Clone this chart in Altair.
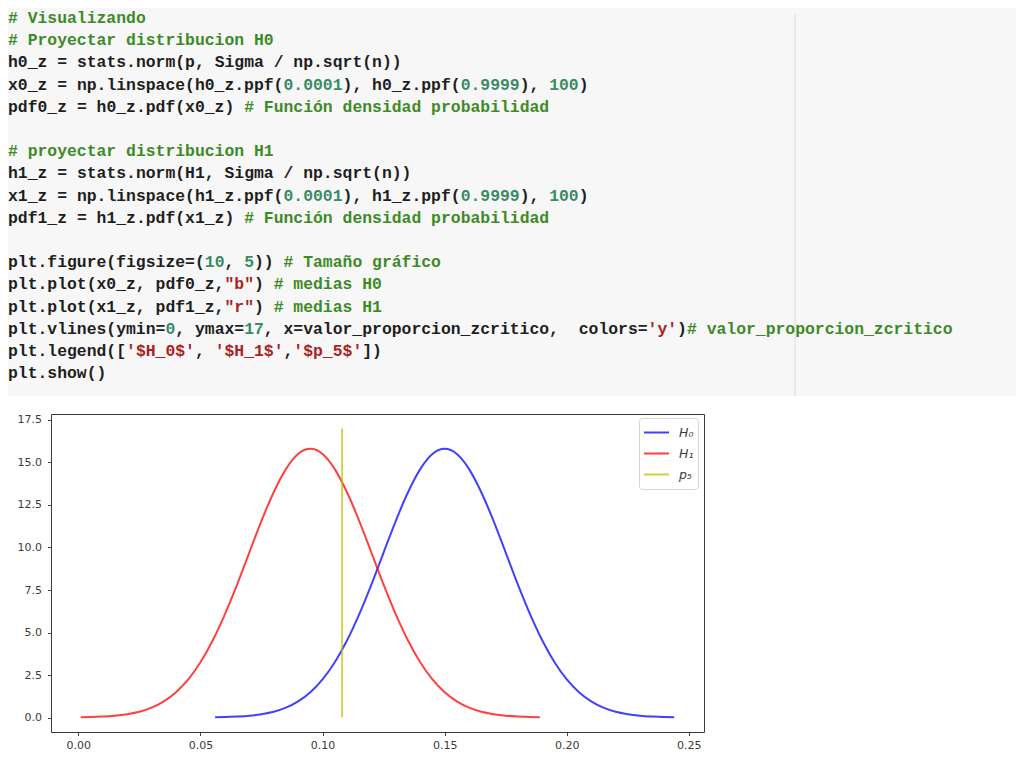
import re
import altair as alt
import pandas as pd

# ---------------- data ----------------
h0_x = [0.056, 0.060, 0.065, 0.070, 0.075, 0.080, 0.085, 0.090, 0.095, 0.100,
        0.105, 0.110, 0.115, 0.120, 0.125, 0.130, 0.135, 0.140, 0.145, 0.150,
        0.155, 0.160, 0.165, 0.170, 0.175, 0.180, 0.185, 0.190, 0.195, 0.200,
        0.205, 0.210, 0.215, 0.220, 0.225, 0.230, 0.235, 0.240, 0.244]
h0_y = [0.02, 0.03, 0.06, 0.11, 0.20, 0.34, 0.58, 0.95, 1.49, 2.24,
        3.25, 4.53, 6.07, 7.82, 9.70, 11.57, 13.25, 14.61, 15.50, 15.80,
        15.50, 14.61, 13.25, 11.57, 9.70, 7.82, 6.07, 4.53, 3.25, 2.24,
        1.49, 0.95, 0.58, 0.34, 0.20, 0.11, 0.06, 0.03, 0.02]

h1_x = [0.001, 0.005, 0.010, 0.015, 0.020, 0.025, 0.030, 0.035, 0.040, 0.045,
        0.050, 0.055, 0.060, 0.065, 0.070, 0.075, 0.080, 0.085, 0.090, 0.095,
        0.100, 0.105, 0.110, 0.115, 0.120, 0.125, 0.130, 0.135, 0.140, 0.145,
        0.150, 0.155, 0.160, 0.165, 0.170, 0.175, 0.180, 0.185, 0.189]
h1_y = [0.02, 0.03, 0.06, 0.11, 0.20, 0.34, 0.58, 0.95, 1.49, 2.24,
        3.25, 4.53, 6.07, 7.82, 9.70, 11.57, 13.25, 14.61, 15.50, 15.80,
        15.50, 14.61, 13.25, 11.57, 9.70, 7.82, 6.07, 4.53, 3.25, 2.24,
        1.49, 0.95, 0.58, 0.34, 0.20, 0.11, 0.06, 0.03, 0.02]

rule_x = [0.108]
rule_ymin = [0]
rule_ymax = [17]

series_names = ["H₀", "H₁", "p₅"]
x_ticks = [0.00, 0.05, 0.10, 0.15, 0.20, 0.25]
y_ticks = [0.0, 2.5, 5.0, 7.5, 10.0, 12.5, 15.0, 17.5]

code_lines = [
    [("comment", "# Visualizando")],
    [("comment", "# Proyectar distribucion H0")],
    [("plain", "h0_z = stats.norm(p, Sigma / np.sqrt(n))")],
    [("plain", "x0_z = np.linspace(h0_z.ppf("), ("number", "0.0001"), ("plain", "), h0_z.ppf("),
     ("number", "0.9999"), ("plain", "), "), ("number", "100"), ("plain", ")")],
    [("plain", "pdf0_z = h0_z.pdf(x0_z) "), ("comment", "# Función densidad probabilidad")],
    [],
    [("comment", "# proyectar distribucion H1")],
    [("plain", "h1_z = stats.norm(H1, Sigma / np.sqrt(n))")],
    [("plain", "x1_z = np.linspace(h1_z.ppf("), ("number", "0.0001"), ("plain", "), h1_z.ppf("),
     ("number", "0.9999"), ("plain", "), "), ("number", "100"), ("plain", ")")],
    [("plain", "pdf1_z = h1_z.pdf(x1_z) "), ("comment", "# Función densidad probabilidad")],
    [],
    [("plain", "plt.figure(figsize=("), ("number", "10"), ("plain", ", "), ("number", "5"),
     ("plain", ")) "), ("comment", "# Tamaño gráfico")],
    [("plain", "plt.plot(x0_z, pdf0_z,"), ("string", '"b"'), ("plain", ") "), ("comment", "# medias H0")],
    [("plain", "plt.plot(x1_z, pdf1_z,"), ("string", '"r"'), ("plain", ") "), ("comment", "# medias H1")],
    [("plain", "plt.vlines(ymin="), ("number", "0"), ("plain", ", ymax="), ("number", "17"),
     ("plain", ", x=valor_proporcion_zcritico,  colors="), ("string", "'y'"), ("plain", ")"),
     ("comment", "# valor_proporcion_zcritico")],
    [("plain", "plt.legend(["), ("string", "'$H_0$'"), ("plain", ", "), ("string", "'$H_1$'"),
     ("plain", ","), ("string", "'$p_5$'"), ("plain", "])")],
    [("plain", "plt.show()")],
]

# ---------------- layout constants ----------------
W, H = 653, 318
PAD_L, PAD_T, PAD_R, PAD_B = 43, 406, 312, 30
CHAR_W = 9.84
LINE_H = 22.2
FIRST_LINE_Y = 18 - 414
CODE_FONT = 16.4
kind_colors = {"plain": "#1e1e1e", "comment": "#3d8a26", "number": "#3b8a66", "string": "#ab2222"}

# build code token table (monospace columns)
rows = []
for li, segs in enumerate(code_lines):
    col = 0
    for kind, txt in segs:
        for m in re.finditer(r"\S+", txt):
            rows.append({"kind": kind, "text": m.group(0),
                         "px": (col + m.start()) * CHAR_W - PAD_L,
                         "py": FIRST_LINE_Y + li * LINE_H})
        col += len(txt)
code_df = pd.DataFrame(rows)

df0 = pd.DataFrame({"x": h0_x, "y": h0_y, "serie": series_names[0]})
df1 = pd.DataFrame({"x": h1_x, "y": h1_y, "serie": series_names[1]})
dfr = pd.DataFrame({"x": rule_x, "y0": rule_ymin, "y1": rule_ymax, "serie": series_names[2]})

xscale = alt.Scale(domain=[-0.0112, 0.2562], nice=False, zero=False)
yscale = alt.Scale(domain=[-0.85, 17.85], nice=False, zero=False)
axis_common = dict(title=None, grid=False, domain=False, tickSize=3.5, tickColor="#444",
                   tickWidth=1, labelFont="DejaVu Sans", labelFontSize=11, labelColor="#3a3a3a")
xaxis = alt.Axis(values=x_ticks, format=".2f", labelPadding=4, **axis_common)
yaxis = alt.Axis(values=y_ticks, format=".1f", labelPadding=6, **axis_common)

color_scale = alt.Scale(domain=series_names, range=["#0000ff", "#ff0000", "#bfbf00"])
legend = alt.Legend(orient="none", legendX=588, legendY=4, title=None, symbolType="stroke",
                    symbolSize=625, symbolStrokeWidth=2, symbolOpacity=0.75, clipHeight=21,
                    rowPadding=0, labelFont="DejaVu Sans", labelFontSize=12.5,
                    labelFontStyle="italic", labelColor="#3a3a3a", labelOffset=9, padding=4,
                    fillColor="white", strokeColor="#d4d4d4", cornerRadius=3)
color_enc = alt.Color("serie:N", scale=color_scale, legend=legend)

one = pd.DataFrame({"a": [0]})
bg = alt.Chart(one).mark_rect(color="#f7f7f7").encode(
    x=alt.value(-PAD_L), x2=alt.value(965), y=alt.value(-PAD_T), y2=alt.value(-18))
ruler = alt.Chart(one).mark_rule(color="#dddddd", strokeWidth=1).encode(
    x=alt.value(744), y=alt.value(-PAD_T + 6), y2=alt.value(-18))

text_layers = []
for kind, colr in kind_colors.items():
    sub = code_df[code_df["kind"] == kind]
    if len(sub) == 0:
        continue
    text_layers.append(
        alt.Chart(sub).mark_text(font="Liberation Mono", fontSize=CODE_FONT, fontWeight="bold",
                                 align="left", baseline="middle", color=colr).encode(
            x=alt.value({"expr": "datum.px"}), y=alt.value({"expr": "datum.py"}),
            text="text:N"))

line0 = alt.Chart(df0).mark_line(strokeWidth=2, opacity=0.75, interpolate="monotone").encode(
    x=alt.X("x:Q", scale=xscale, axis=xaxis), y=alt.Y("y:Q", scale=yscale, axis=yaxis),
    color=color_enc)
line1 = alt.Chart(df1).mark_line(strokeWidth=2, opacity=0.75, interpolate="monotone").encode(
    x=alt.X("x:Q", scale=xscale), y=alt.Y("y:Q", scale=yscale), color=color_enc)
vrule = alt.Chart(dfr).mark_rule(strokeWidth=2, opacity=0.7).encode(
    x=alt.X("x:Q", scale=xscale), y=alt.Y("y0:Q", scale=yscale), y2="y1:Q", color=color_enc)

chart = alt.layer(bg, ruler, *text_layers, line0, line1, vrule).properties(
    width=W, height=H,
    autosize=alt.AutoSizeParams(type="none"),
    padding={"left": PAD_L, "top": PAD_T, "right": PAD_R, "bottom": PAD_B},
).configure_view(stroke="#3a3a3a", strokeWidth=1)

chart.save("out.html", embed_options={"renderer": "svg", "actions": False})
